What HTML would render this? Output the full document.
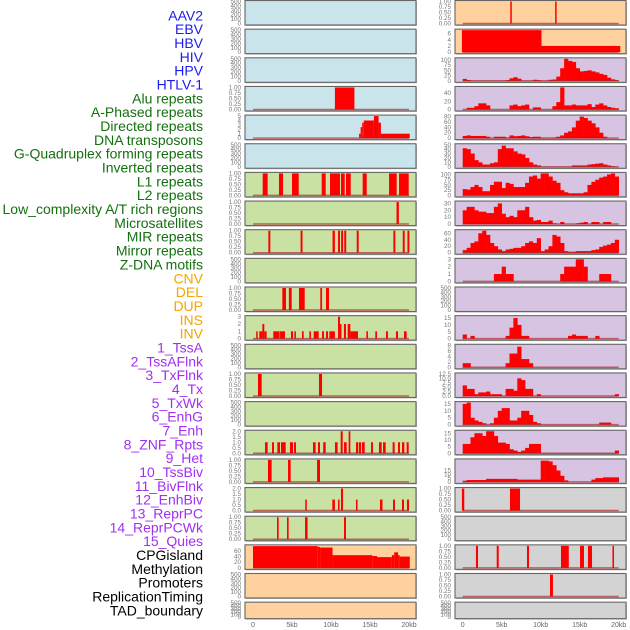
<!DOCTYPE html>
<html><head><meta charset="utf-8"><style>
html,body{margin:0;padding:0;background:#fff;width:630px;height:630px;overflow:hidden}
svg{display:block}
</style></head><body>
<svg id="chart" width="630" height="630" xmlns="http://www.w3.org/2000/svg" font-family="Liberation Sans, sans-serif"></svg>
<script>
// ---------- labels ----------
const featureLabels = ["AAV2","EBV","HBV","HIV","HPV","HTLV-1","Alu repeats","A-Phased repeats","Directed repeats","DNA transposons","G-Quadruplex forming repeats","Inverted repeats","L1 repeats","L2 repeats","Low_complexity A/T rich regions","Microsatellites","MIR repeats","Mirror repeats","Z-DNA motifs","CNV","DEL","DUP","INS","INV","1_TssA","2_TssAFlnk","3_TxFlnk","4_Tx","5_TxWk","6_EnhG","7_Enh","8_ZNF_Rpts","9_Het","10_TssBiv","11_BivFlnk","12_EnhBiv","13_ReprPC","14_ReprPCWk","15_Quies","CPGisland","Methylation","Promoters","ReplicationTiming","TAD_boundary"];
const labelColors = {virus:"#1c1cf0",repeat:"#13700f",sv:"#f5a400",state:"#a22ff0",other:"#000"};
const labelGroups = [6,13,5,15,5];
const xTickValues = [0,5,10,15,20];
const xTickLabels = ["0","5kb","10kb","15kb","20kb"];

// ---------- tick label sets ----------
const ticksEmpty = ["0","100","200","300","400","500"];
const ticksEmptyVals = [0,100,200,300,400,500];
const ticksUnit = [0,0.25,0.5,0.75,1];
const ticksUnitLbl = ["0.00","0.25","0.50","0.75","1.00"];

// ---------- left column data (segments: [startKb, endKb, value]) ----------
const leftAluSegments = [[10.5,13.0,1]];
const leftStepSegments = [[13.6,13.8,1],[13.8,14,2.5],[14,14.2,3.5],[14.2,15.5,4],[15.5,16.1,5],[16.1,16.4,3.5],[16.4,20.1,1]];
const leftL1Segments = [[1.24,1.88,1],[3.33,3.85,1],[5.0,5.86,1],[8.81,9.32,1],[9.87,11.15,1],[11.28,11.76,1],[11.92,12.53,1],[14.06,14.58,1],[17.44,18.42,1],[18.72,19.96,1]];
const leftL2Segments = [[18.4,18.7,1]];
const leftLowCxSegments = [[1.97,2.22,1],[6.1,6.35,1],[10.2,10.5,1],[10.9,11.15,1],[11.3,11.55,1],[11.7,11.95,1],[13.3,13.55,1],[18.0,18.25,1],[19.2,19.45,1],[19.8,20.05,1]];
const leftMIRSegments = [[3.76,4.23,1],[4.6,4.96,1],[5.9,6.63,1],[8.63,8.85,1],[9.36,9.74,1]];
const leftMirrorSegments = [[0.41,0.6,1],[0.81,1.2,1],[1.2,1.45,2],[1.45,1.75,1],[2.6,3.33,1],[3.38,3.55,1],[3.55,4.1,1],[4.87,5.13,1],[5.3,5.5,1],[6.28,6.5,1],[7.22,7.43,1],[7.78,8.42,1],[8.85,9.1,1],[9.36,9.62,1],[9.79,10.5,1],[10.9,11.15,3],[11.15,11.28,2],[11.66,11.92,2],[12.14,12.48,2],[12.48,13.46,1],[14.53,14.74,1],[15.68,15.9,1],[17.05,17.3,1],[18.33,18.59,1],[19.36,19.7,1]];
const leftDelSegments = [[0.64,1.11,1],[8.46,8.85,1]];
const leftInsSegments = [[1.54,1.88,1],[2.44,2.69,1],[3.12,3.46,1],[3.59,4.19,1],[4.74,5.13,1],[5.26,5.51,1],[7.69,8.03,1],[8.33,8.59,1],[9.0,9.32,1],[10.51,10.85,1],[11.24,11.5,2],[11.67,12.01,1],[12.26,12.48,2],[13.2,13.5,1],[13.59,13.85,1],[13.97,14.32,1],[15.13,15.38,1],[16.15,16.5,1],[16.67,17.01,1],[17.9,18.16,1],[18.59,18.84,1],[19.1,19.4,1],[19.7,19.96,1]];
const leftInvSegments = [[1.92,2.39,1],[4.49,4.83,1],[8.21,8.59,1]];
const leftTssASegments = [[6.7,6.9,1],[10.17,10.5,1],[10.9,11.1,1],[11.28,11.54,2],[13.2,13.4,1],[16.28,16.6,1],[17.95,18.2,1],[19.1,19.36,1],[19.74,20.0,1]];
const leftTssAFlnkSegments = [[3.08,3.29,1],[4.36,4.57,1],[6.67,7.0,1],[11.67,11.92,1]];
const leftCpgSegments = [[0,8.3,77],[8.3,8.6,74],[8.6,10.2,72],[10.2,15.3,45],[15.3,15.9,42],[15.9,17.8,38],[17.8,18.1,45],[18.1,18.6,55],[18.6,18.8,45],[18.8,20.1,40]];

// ---------- right column data ----------
const rightThinSegments = [[6.1,6.27,1],[11.85,12.02,1]];
const rightStepSegments = [[-0.1,10.1,7.1],[10.1,20.2,2]];
// 0.5kb bins from 0kb
const hivBins = [9,4,0,0,0,0,0,0,0,0,0,3,12,17,10,0,0,0,5,3,0,0,5,6,20,60,105,95,90,60,45,47,50,45,40,33,28,15,7,3];
const hpvBins = [0,4,4,8,15,15,10,0,0,0,0,0,10,12,8,10,12,0,5,5,0,0,0,8,18,57,10,10,12,10,10,10,13,6,12,15,10,6,4,3];
const htlvBins = [8,10,8,8,8,8,5,0,5,5,5,2,10,7,8,10,7,4,5,5,1,1,1,2,5,10,20,25,40,65,80,75,65,55,40,20,5,0,0,0];
const alubBins = [42,40,30,15,10,5,5,8,10,40,48,42,42,35,30,28,20,10,5,3,0,0,0,0,0,0,0,0,3,3,3,3,5,6,7,8,5,3,1,0];
const aPhasedBins = [30,28,40,50,40,20,20,50,65,65,35,60,55,40,40,40,60,90,95,80,105,105,90,70,60,25,15,10,10,10,10,15,50,65,75,85,90,100,105,90];
const directedBins = [20,25,25,20,18,18,16,16,25,30,15,10,12,10,20,20,25,10,5,6,3,3,5,1,0,3,0,0,0,1,2,3,0,3,3,0,3,3,0,0];
const dnaTransBins = [8,15,30,35,60,68,55,30,20,10,5,10,12,15,15,20,30,35,30,45,5,10,20,55,50,30,5,3,3,5,5,5,5,8,10,18,22,25,30,40];
const gquadBins = [0,0,0,0,0,0,0,0,1,1,2,1,1,0,0,0,0,0,0,0,0,0,0,0,0,1,2,2,2,3,3,2,0,0,0,1,1,1,0,0];
const l1Bins = [3,0,2,0,0,0,0,0,0,0,0,2,8,15,10,2,2,0,0,0,0,0,0,0,0,0,0,2,3,2,2,2,0,0,2,0,0,0,0,0];
const l2Bins = [1.5,1.5,0,0,0,0,0,0,0,0,0,1.5,5,5,7.5,3,3,1.5,0,0,0,0,0,0,0,0,0,0,0,0,0,0,0,0,0,0,0,0,0,0];
const lowCxBins = [6,4,4,1,2,2,2.5,1,1,1,0,4,4,3,10,9,4,4,0,1,0,0,0,0,0,0,0,0,0,0,0,0,0,0,0,0,0,0,0,1];
const microsatBins = [15,16,5,3,2,1,0,1,5,10,12,12,3,3,5,10,10,7,2,1,0,0,0,0,0,0,0,0,0,0,0,0,0,0,0,1.5,1.5,1.5,0,0];
const mirBins = [7,7,12,15,15,13,17,17,13,8,8,7,3,2,1,2,4,7,7,7,0.2,0.2,0.2,0.2,0.2,0.2,0.2,0.2,0.2,0.2,0.2,0.2,0.2,0.2,0.2,0.2,0.2,0.2,0.2,2];
const mirrorBins = [1.5,2.5,2.5,2.5,2.5,2.5,4,4,4,4,4,4,4,4,3,3,3,3,3,3,28,28,27,22,15,8,2,0,0,0,0,0,0,3,5,5,6,6,6,6];
const rightCnvSegments = [[-0.1,0.2,1],[6.06,7.35,1]];
const rightDupSegments = [[1.7,1.96,1],[4.36,4.62,1],[8.24,8.5,1],[12.6,13.6,1],[15.04,15.55,1],[16.06,16.58,1],[19.2,19.4,1]];
const rightInsSegments = [[11.19,11.57,1]];

// ---------- panel layout ----------
const BG = {blue:"#c9e4eb",green:"#c9e1a2",orange:"#ffd19e",purple:"#d6c4e2",gray:"#d3d3d3"};
const panels = [
 {col:0,row:0,bg:"blue"},{col:0,row:1,bg:"blue"},{col:0,row:2,bg:"blue"},
 {col:0,row:3,bg:"blue",seg:leftAluSegments,top:1,tv:ticksUnit,tl:ticksUnitLbl},
 {col:0,row:4,bg:"blue",seg:leftStepSegments,top:5,tv:[0,1,2,3,4,5],tl:["0","1","2","3","4","5"]},
 {col:0,row:5,bg:"blue"},
 {col:0,row:6,bg:"green",seg:leftL1Segments,top:1,tv:ticksUnit,tl:ticksUnitLbl},
 {col:0,row:7,bg:"green",seg:leftL2Segments,top:1,tv:ticksUnit,tl:ticksUnitLbl},
 {col:0,row:8,bg:"green",seg:leftLowCxSegments,top:1,tv:ticksUnit,tl:ticksUnitLbl},
 {col:0,row:9,bg:"green"},
 {col:0,row:10,bg:"green",seg:leftMIRSegments,top:1,tv:ticksUnit,tl:ticksUnitLbl},
 {col:0,row:11,bg:"green",seg:leftMirrorSegments,top:3,tv:[0,1,2,3],tl:["0","1","2","3"]},
 {col:0,row:12,bg:"green"},
 {col:0,row:13,bg:"green",seg:leftDelSegments,top:1,tv:ticksUnit,tl:ticksUnitLbl},
 {col:0,row:14,bg:"green"},
 {col:0,row:15,bg:"green",seg:leftInsSegments,top:2,tv:[0,0.5,1,1.5,2],tl:["0.0","0.5","1.0","1.5","2.0"]},
 {col:0,row:16,bg:"green",seg:leftInvSegments,top:1,tv:ticksUnit,tl:ticksUnitLbl},
 {col:0,row:17,bg:"green",seg:leftTssASegments,top:2,tv:[0,0.5,1,1.5,2],tl:["0.0","0.5","1.0","1.5","2.0"]},
 {col:0,row:18,bg:"green",seg:leftTssAFlnkSegments,top:1,tv:ticksUnit,tl:ticksUnitLbl},
 {col:0,row:19,bg:"orange",seg:leftCpgSegments,top:78,tv:[0,20,40,60],tl:["0","20","40","60"]},
 {col:0,row:20,bg:"orange"},{col:0,row:21,bg:"orange"},
 {col:1,row:0,bg:"orange",seg:rightThinSegments,top:1,tv:ticksUnit,tl:ticksUnitLbl},
 {col:1,row:1,bg:"orange",seg:rightStepSegments,top:7.1,tv:[0,2,4,6],tl:["0","2","4","6"]},
 {col:1,row:2,bg:"purple",bins:hivBins,top:105,tv:[0,25,50,75,100],tl:["0","25","50","75","100"]},
 {col:1,row:3,bg:"purple",bins:hpvBins,top:54,tv:[0,20,40],tl:["0","20","40"]},
 {col:1,row:4,bg:"purple",bins:htlvBins,top:82,tv:[0,20,40,60,80],tl:["0","20","40","60","80"]},
 {col:1,row:5,bg:"purple",bins:alubBins,top:50,tv:[0,10,20,30,40,50],tl:["0","10","20","30","40","50"]},
 {col:1,row:6,bg:"purple",bins:aPhasedBins,top:105,tv:[0,25,50,75,100],tl:["0","25","50","75","100"]},
 {col:1,row:7,bg:"purple",bins:directedBins,top:32,tv:[0,10,20,30],tl:["0","10","20","30"]},
 {col:1,row:8,bg:"purple",bins:dnaTransBins,top:68,tv:[0,20,40,60],tl:["0","20","40","60"]},
 {col:1,row:9,bg:"purple",bins:gquadBins,top:3,tv:[0,1,2,3],tl:["0","1","2","3"]},
 {col:1,row:10,bg:"purple"},
 {col:1,row:11,bg:"purple",bins:l1Bins,top:16,tv:[0,5,10,15],tl:["0","5","10","15"]},
 {col:1,row:12,bg:"purple",bins:l2Bins,top:8,tv:[0,2,4,6,8],tl:["0","2","4","6","8"]},
 {col:1,row:13,bg:"purple",bins:lowCxBins,top:12.5,tv:[0,2.5,5,7.5,10,12.5],tl:["0.0","2.5","5.0","7.5","10.0","12.5"]},
 {col:1,row:14,bg:"purple",bins:microsatBins,top:16,tv:[0,5,10,15],tl:["0","5","10","15"]},
 {col:1,row:15,bg:"purple",bins:mirBins,top:16.5,tv:[0,5,10,15],tl:["0","5","10","15"]},
 {col:1,row:16,bg:"purple",bins:mirrorBins,top:29,tv:[0,5,10,15],tl:["0","5","10","15"]},
 {col:1,row:17,bg:"gray",seg:rightCnvSegments,top:1,tv:ticksUnit,tl:ticksUnitLbl},
 {col:1,row:18,bg:"gray"},
 {col:1,row:19,bg:"gray",seg:rightDupSegments,top:1,tv:ticksUnit,tl:ticksUnitLbl},
 {col:1,row:20,bg:"gray",seg:rightInsSegments,top:1,tv:ticksUnit,tl:ticksUnitLbl},
 {col:1,row:21,bg:"gray"}
];

const NS = "http://www.w3.org/2000/svg";
const svg = document.getElementById("chart");
function mk(tag, attrs, parent){const e=document.createElementNS(NS,tag);for(const k in attrs)e.setAttribute(k,attrs[k]);(parent||svg).appendChild(e);return e;}

const COL_LEFT = [245,455], COL_W = 171, X0 = [253,462.7], PX_PER_KB = 7.8;
function xScale(col, kb){return X0[col] + kb*PX_PER_KB;}
function rowTop(r){return 0.5 + 28.65*r;}
function rowH(r){return r===21 ? 16.5 : 24.5;}
function yScale(p, v){const t=rowTop(p.row), h=rowH(p.row);const bot=t+h-1.5;const v2=Math.min(v,p.top);return bot - v2*(h-2.5)/p.top;}

// labels
let gi=0, gc=0; const groupKeys=["virus","repeat","sv","state","other"];
featureLabels.forEach((lbl,i)=>{
  while(gc>=labelGroups[gi]){gi++;gc=0;}
  gc++;
  const t = mk("text",{x:203,y:20.3+i*13.84,"text-anchor":"end","font-size":"14",fill:labelColors[groupKeys[gi]]});
  
  
  t.textContent = lbl;
});

// panels
panels.forEach(p=>{
  const g = mk("g",{});
  
  
  const x=COL_LEFT[p.col], y=rowTop(p.row), h=rowH(p.row);
  mk("rect",{x:x+1,y:y+1,width:COL_W,height:h,fill:"#bbb"},g);
  mk("rect",{x:x,y:y,width:COL_W,height:h,fill:BG[p.bg],stroke:"#666","stroke-width":1.1},g);
  const tv = p.tv || ticksEmptyVals, tl = p.tl || ticksEmpty;
  const pp = p.top ? p : Object.assign({},p,{top:500});
  tv.forEach((v,i)=>{
    const t = mk("text",{x:x-4,y:yScale(pp,v)+2,"text-anchor":"end","font-size":"6.3",fill:"#777"},g);
    
    
    t.textContent = tl[i];
  });
  if(!p.top) return;
  if(p.seg){
    p.seg.forEach(s=>{
      const x1=xScale(p.col,s[0]), x2=xScale(p.col,s[1]);
      const r = mk("rect",{x:x1,y:yScale(p,s[2]),width:Math.max(1.5,x2-x1),height:yScale(p,0)-yScale(p,s[2]),fill:"#ff0000"},g);
      
      
    });
  }
  if(p.bins){
    p.bins.forEach((v,i)=>{
      if(v<=0) return;
      const x1=xScale(p.col,i*0.5), x2=xScale(p.col,(i+1)*0.5);
      const r = mk("rect",{x:x1,y:yScale(p,v),width:x2-x1+0.3,height:yScale(p,0)-yScale(p,v),fill:"#ff0000"},g);
      
      
    });
  }
  const bl = mk("line",{x1:xScale(p.col,0),x2:xScale(p.col,20),y1:yScale(p,0),y2:yScale(p,0),stroke:"rgba(170,20,20,0.6)","stroke-width":1.5},g);
  
  
});

// x axes
[0,1].forEach(c=>{
  xTickValues.forEach((v,i)=>{
    const t = mk("text",{x:xScale(c,v),y:627,"text-anchor":"middle","font-size":"7",fill:"#666"});
    
    
    t.textContent = xTickLabels[i];
  });
});
</script>
</body></html>
